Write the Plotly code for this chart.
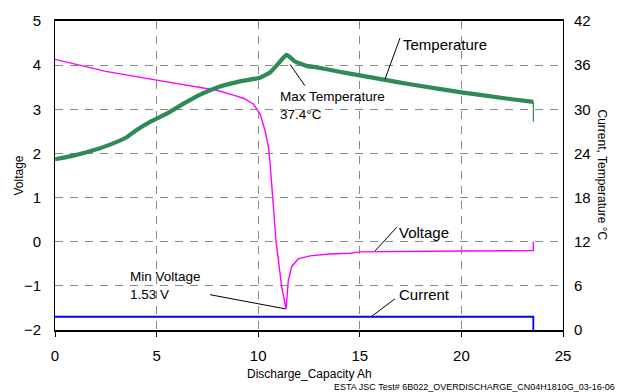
import plotly.graph_objects as go

# Discharge capacity (Ah) and cell voltage (V)
volt_x = [0, 2.5, 5.0, 7.13, 7.96, 8.78, 9.27, 9.76, 10.09, 10.33, 10.5, 10.58,
          10.71, 10.88, 11.15, 11.37, 11.48, 11.56, 11.65, 11.97, 12.55, 13.5,
          14.52, 15.0, 17.5, 20.0, 23.54, 23.54]
volt_y = [4.13, 3.86, 3.66, 3.49, 3.43, 3.32, 3.25, 3.12, 2.90, 2.53, 2.16, 1.80,
          1.0, 0.0, -1.0, -1.53, -0.89, -0.70, -0.56, -0.39, -0.32, -0.28,
          -0.26, -0.23, -0.215, -0.21, -0.20, 0.0]

# Cell surface temperature (°C)
temp_x = [0, 0.74, 1.72, 2.71, 3.53, 4.02, 4.68, 5.5, 6.48, 7.14, 8.12,
          9.1, 10.09, 10.58, 10.99, 11.2, 11.4, 11.6, 11.81, 12.38, 12.88,
          14.0, 15.0, 16.24, 17.47, 20.0, 22.39, 23.54]
temp_y = [23.2, 23.6, 24.3, 25.2, 26.2, 27.2, 28.3, 29.4, 31.0, 32.0, 33.1,
          33.8, 34.3, 35.0, 36.2, 36.9, 37.4, 37.0, 36.5, 35.9, 35.7,
          35.1, 34.6, 34.0, 33.4, 32.3, 31.4, 31.0]
temp_end_x = [23.54, 23.54]
temp_end_y = [31.0, 28.3]

# Discharge current (A)
curr_x = [0, 23.54, 23.54]
curr_y = [1.8, 1.8, 0.0]

x_ticks = [0, 5, 10, 15, 20, 25]
v_ticks = [-2, -1, 0, 1, 2, 3, 4, 5]
t_ticks = [0, 6, 12, 18, 24, 30, 36, 42]

FONT = "Arial, Liberation Sans, sans-serif"
GREEN = "#2E8B57"

fig = go.Figure()
fig.add_trace(go.Scatter(x=temp_x, y=temp_y, yaxis="y2", mode="lines",
                         line=dict(color=GREEN, width=4.2, shape="spline", smoothing=0.4),
                         name="Temperature"))
fig.add_trace(go.Scatter(x=temp_end_x, y=temp_end_y, yaxis="y2", mode="lines",
                         line=dict(color=GREEN, width=1.2), name="Temperature end"))
fig.add_trace(go.Scatter(x=curr_x, y=curr_y, yaxis="y2", mode="lines",
                         line=dict(color="#0000FF", width=1.8), name="Current"))
fig.add_trace(go.Scatter(x=volt_x, y=volt_y, mode="lines",
                         line=dict(color="#FF00FF", width=1.4), name="Voltage"))

grid = dict(showgrid=True, gridcolor="#8a8a8a", gridwidth=1, griddash="8px,7px")

fig.update_layout(
    width=618, height=392,
    margin=dict(l=55, r=55, t=16, b=62),
    paper_bgcolor="white", plot_bgcolor="white",
    showlegend=False,
    font=dict(family=FONT, size=15, color="black"),
    xaxis=dict(range=[0, 25], tickvals=x_ticks, zeroline=False,
               showline=True, linecolor="black", linewidth=2, mirror=True,
               ticks="outside", ticklen=5, tickcolor="black",
               ticklabelstandoff=6, **grid),
    yaxis=dict(range=[-2, 5], tickvals=v_ticks, zeroline=False,
               showline=True, linecolor="black", linewidth=1, mirror=True,
               ticks="", ticklabelstandoff=10, **grid),
    yaxis2=dict(range=[0, 42], tickvals=t_ticks, overlaying="y", side="right",
                showgrid=False, zeroline=False, showline=False,
                ticks="", ticklabelstandoff=10),
)

# Series labels with leader lines
labels = [
    dict(text="Temperature", x=17.03, y=38.8, yref="y2", size=15),
    dict(text="Max Temperature<br>37.4°C", x=10.99, y=30.5, yref="y2", size=13.5),
    dict(text="Voltage", x=16.83, y=0.22, yref="y", size=15),
    dict(text="Current", x=16.83, y=4.8, yref="y2", size=15),
    dict(text="Min Voltage<br>1.53 V", x=3.61, y=-1.0, yref="y", size=13.5),
]
for lb in labels:
    fig.add_annotation(text=lb["text"], x=lb["x"], y=lb["y"], xref="x", yref=lb["yref"],
                       xanchor="left", yanchor="middle", align="left", showarrow=False,
                       font=dict(family=FONT, size=lb["size"], color="black"))

leaders = [
    (16.98, 39.69, 16.24, 34.1, "y2"),
    (11.57, 36.1, 12.30, 33.2, "y2"),
    (16.82, 0.33, 15.75, -0.21, "y"),
    (16.73, 4.24, 15.59, 1.87, "y2"),
    (7.63, -1.20, 11.32, -1.52, "y"),
]
for x0, y0, x1, y1, yr in leaders:
    fig.add_shape(type="line", xref="x", yref=yr, x0=x0, y0=y0, x1=x1, y1=y1,
                  line=dict(color="black", width=1))

# Axis titles
fig.add_annotation(text="Voltage", xref="paper", yref="paper", x=-0.0728, y=0.5,
                   xanchor="center", yanchor="middle", textangle=-90, showarrow=False,
                   font=dict(family=FONT, size=12))
fig.add_annotation(text="Current, Temperature °C", xref="paper", yref="paper",
                   x=1.0787, y=0.5, xanchor="center", yanchor="middle", textangle=90,
                   showarrow=False, font=dict(family=FONT, size=12))
fig.add_annotation(text="Discharge_Capacity Ah", xref="paper", yref="paper",
                   x=0.5, y=-0.1433, xanchor="center", yanchor="middle",
                   showarrow=False, font=dict(family=FONT, size=12))
fig.add_annotation(text="ESTA JSC Test# 6B022_OVERDISCHARGE_CN04H1810G_03-16-06",
                   xref="paper", yref="paper", x=1.1063, y=-0.1847,
                   xanchor="right", yanchor="middle", showarrow=False,
                   font=dict(family=FONT, size=9))

fig.write_html("out.html")
